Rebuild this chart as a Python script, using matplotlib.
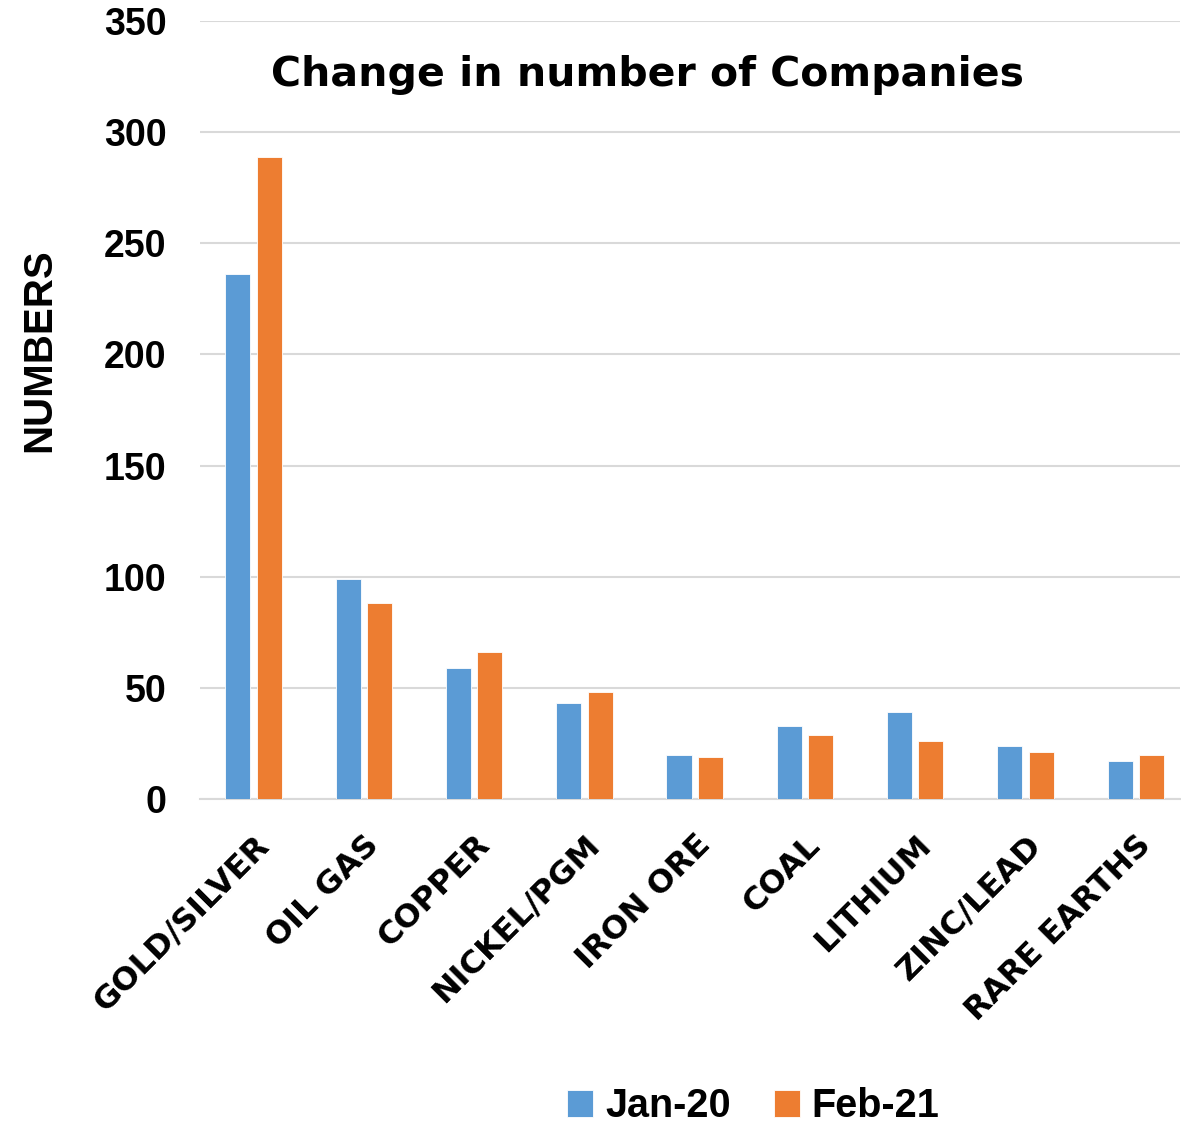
import matplotlib.pyplot as plt
import numpy as np

plt.rcParams['font.family'] = ['Liberation Sans', 'DejaVu Sans']
plt.rcParams['font.weight'] = 'bold'

# Data
categories = ["GOLD/SILVER", "OIL GAS", "COPPER", "NICKEL/PGM", "IRON ORE",
              "COAL", "LITHIUM", "ZINC/LEAD", "RARE EARTHS"]
jan_20 = [236, 99, 59, 43, 20, 33, 39, 24, 17]
feb_21 = [289, 88, 66, 48, 19, 29, 26, 21, 20]

x = np.arange(len(categories))
bar_w = 0.227
offset = 0.142

fig = plt.figure(figsize=(11.81, 11.30), dpi=100)
ax = fig.add_axes([0.169, 0.2929, 0.830, 0.6885])

ax.bar(x - offset, jan_20, width=bar_w, color='#5B9BD5', edgecolor='white',
       linewidth=0.6, label='Jan-20', zorder=3)
ax.bar(x + offset, feb_21, width=bar_w, color='#ED7D31', edgecolor='white',
       linewidth=0.6, label='Feb-21', zorder=3)

ax.set_xlim(-0.49, 8.40)
ax.set_ylim(0, 350)
ax.set_yticks(np.arange(0, 351, 50))
ax.yaxis.grid(True, color='#D9D9D9', linewidth=1.5, zorder=0)
ax.set_axisbelow(True)

for s in ['top', 'right', 'left']:
    ax.spines[s].set_visible(False)
ax.spines['bottom'].set_color('#D9D9D9')
ax.spines['bottom'].set_linewidth(1.5)
ax.tick_params(axis='both', length=0)
ax.tick_params(axis='y', labelsize=27, pad=24)

ax.set_xticks(x)
ax.set_xticklabels(categories, rotation=45, ha='right', rotation_mode='anchor',
                   fontsize=23, fontweight='bold', family='DejaVu Sans')
ax.tick_params(axis='x', pad=22)
for lbl in ax.get_yticklabels():
    lbl.set_fontweight('bold')

ax.set_ylabel("NUMBERS", fontsize=29, fontweight='bold')
ax.yaxis.set_label_coords(-0.144, 0.577)

fig.text(0.548, 0.934, "Change in number of Companies", ha='center', va='center',
         fontsize=29.5, fontweight='bold', family='DejaVu Sans')

fig.legend(loc='center', bbox_to_anchor=(0.638, 0.021), ncol=2, frameon=False,
           fontsize=28.5, handlelength=0.65, handleheight=0.65, handletextpad=0.3,
           columnspacing=1.1, borderpad=0.2)

fig.savefig('out.png', dpi=100)
